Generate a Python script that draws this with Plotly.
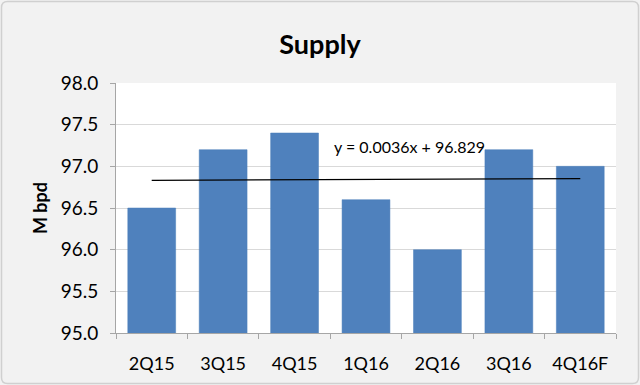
import numpy as np
import plotly.graph_objects as go

categories = ["2Q15", "3Q15", "4Q15", "1Q16", "2Q16", "3Q16", "4Q16F"]
supply = [96.5, 97.2, 97.4, 96.6, 96.0, 97.2, 97.0]
y_ticks = [95.0, 95.5, 96.0, 96.5, 97.0, 97.5, 98.0]

xi = np.arange(1, len(supply) + 1)
slope, intercept = np.polyfit(xi, supply, 1)
trend = slope * xi + intercept

FONT = "Lato, Carlito, 'Open Sans', sans-serif"

L, T, W, H = 116, 83, 500, 250


def px(x):
    return (x - L) / W


def py(y):
    return (T + H - y) / H


# rounded border path (pixel coords -> paper)
x0, x1, y0, y1, r = 1.5, 638.5, 1.5, 383.5, 6
path = (f"M {px(x0 + r)} {py(y0)} L {px(x1 - r)} {py(y0)} Q {px(x1)} {py(y0)} {px(x1)} {py(y0 + r)} "
        f"L {px(x1)} {py(y1 - r)} Q {px(x1)} {py(y1)} {px(x1 - r)} {py(y1)} "
        f"L {px(x0 + r)} {py(y1)} Q {px(x0)} {py(y1)} {px(x0)} {py(y1 - r)} "
        f"L {px(x0)} {py(y0 + r)} Q {px(x0)} {py(y0)} {px(x0 + r)} {py(y0)} Z")

fig = go.Figure()
fig.add_trace(go.Bar(x=categories, y=supply, marker=dict(color="#4F81BD", line=dict(color="#4A7EBB", width=0.5)),
                     showlegend=False))
fig.add_trace(go.Scatter(x=categories, y=trend, mode="lines", line=dict(color="#000000", width=1.2),
                         showlegend=False, hoverinfo="skip"))

fig.add_annotation(x=2.52, y=97.24, xref="x", yref="y", text=f"y = {slope:.4f}x + {intercept:.3f}",
                   showarrow=False, xanchor="left", yanchor="middle",
                   font=dict(family=FONT, size=16, color="#000000"))

fig.update_layout(
    width=640, height=385,
    margin=dict(l=L, r=640 - L - W, t=T, b=385 - T - H),
    paper_bgcolor="#F2F2F2", plot_bgcolor="#FFFFFF",
    bargap=0.33,
    title=dict(text="<b>Supply</b>", x=0.5, xanchor="center", y=1 - 45 / 385, yanchor="middle",
               font=dict(family=FONT, size=27, color="#000000")),
    font=dict(family=FONT),
    shapes=[dict(type="path", xref="paper", yref="paper", path=path,
                 line=dict(color="#D0D0D0", width=1.5), fillcolor="rgba(0,0,0,0)", layer="below")],
)
fig.update_xaxes(showline=True, linecolor="#A6A6A6", linewidth=1, ticks="outside", tickson="boundaries",
                 ticklen=5, tickcolor="#A6A6A6", showgrid=False, ticklabelstandoff=14,
                 tickfont=dict(family=FONT, size=18, color="#000000"))
fig.update_yaxes(range=[95.0, 98.0], tickvals=y_ticks, ticktext=[f"{v:.1f}" for v in y_ticks],
                 showline=True, linecolor="#A6A6A6", linewidth=1, ticks="outside", ticklen=5,
                 tickcolor="#A6A6A6", gridcolor="#D9D9D9", gridwidth=1, zeroline=False,
                 ticklabelstandoff=8,
                 tickfont=dict(family=FONT, size=19, color="#000000"),
                 title=dict(text="<b>M bpd</b>", font=dict(family=FONT, size=18, color="#000000"), standoff=8))

fig.write_html("out.html", config={"displayModeBar": False},
               post_script="document.body.style.margin='0';")
